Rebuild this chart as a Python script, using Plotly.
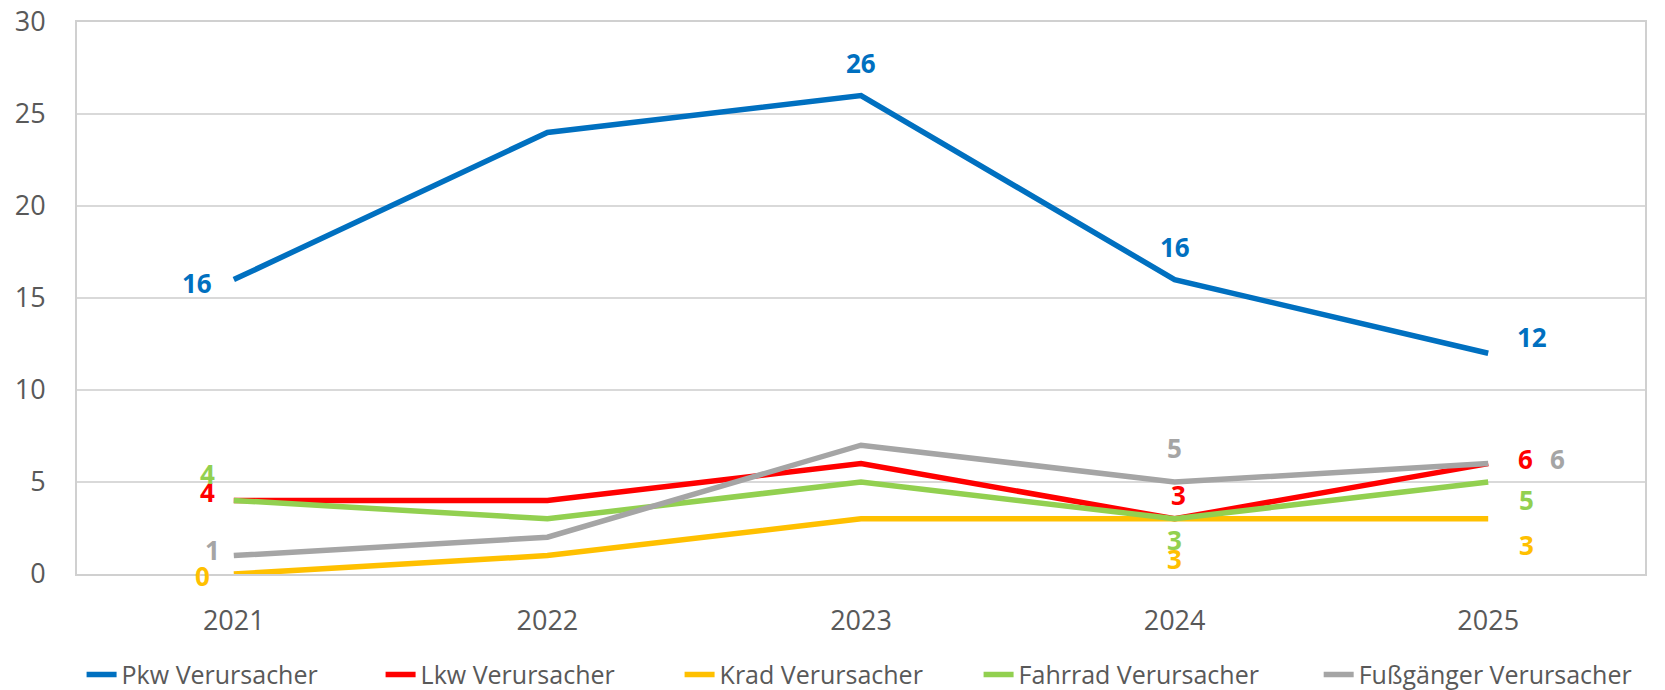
import plotly.graph_objects as go

years = ["2021", "2022", "2023", "2024", "2025"]
pkw = [16, 24, 26, 16, 12]
lkw = [4, 4, 6, 3, 6]
krad = [0, 1, 3, 3, 3]
fahrrad = [4, 3, 5, 3, 5]
fuss = [1, 2, 7, 5, 6]
y_ticks = [0, 5, 10, 15, 20, 25, 30]

series = [
    ("Pkw Verursacher", pkw, "#0070C0"),
    ("Lkw Verursacher", lkw, "#FF0000"),
    ("Krad Verursacher", krad, "#FFC000"),
    ("Fahrrad Verursacher", fahrrad, "#92D050"),
    ("Fußgänger Verursacher", fuss, "#A5A5A5"),
]

# data-label placement (index -> pixel offset dx, dy; dy positive = down)
label_offsets = {
    "Pkw Verursacher": {0: (-37, 3), 2: (0, -33), 3: (0, -33), 4: (44, -16)},
    "Lkw Verursacher": {0: (-26, -8), 3: (4, -24), 4: (37, -5)},
    "Krad Verursacher": {0: (-31, 2), 3: (0, 40), 4: (38, 26)},
    "Fahrrad Verursacher": {0: (-26, -26), 3: (0, 21), 4: (38, 18)},
    "Fußgänger Verursacher": {0: (-21, -6), 3: (0, -34), 4: (69, -5)},
}

FONT = "Open Sans"
fig = go.Figure()
for k, (name, vals, color) in enumerate(series):
    fig.add_trace(go.Scatter(
        x=years, y=vals, name=name, mode="lines",
        legend="legend2" if k == len(series) - 1 else "legend",
        line=dict(color=color, width=5.5),
    ))

for name, vals, color in series:
    for i, off in label_offsets[name].items():
        dx, dy = off
        fig.add_annotation(
            x=i, y=vals[i], xref="x", yref="y",
            text="<b>" + str(vals[i]) + "</b>", showarrow=False,
            xshift=dx, yshift=-dy,
            font=dict(family=FONT, size=26, color=color),
        )

legend_common = dict(
    orientation="h", xref="container", xanchor="left",
    yref="container", y=0.022, yanchor="middle",
    font=dict(family=FONT, size=25, color="#595959"),
)

fig.update_layout(
    width=1665, height=690, autosize=False,
    margin=dict(l=77, r=20, t=22, b=116),
    plot_bgcolor="white", paper_bgcolor="white",
    font=dict(family=FONT, color="#595959"),
    showlegend=True,
    legend=dict(x=0.049, entrywidth=254, entrywidthmode="pixels", **legend_common),
    legend2=dict(x=0.792, **legend_common),
)
fig.update_xaxes(
    type="category", range=[-0.5, 4.5], automargin=False,
    showline=True, linecolor="#D0D0D0", linewidth=2, mirror=True,
    showgrid=False, ticks="", tickfont=dict(family=FONT, size=27, color="#595959"),
    ticklabelstandoff=22,
)
fig.update_yaxes(
    range=[0, 30], tickvals=y_ticks, automargin=False,
    showline=True, linecolor="#D0D0D0", linewidth=2, mirror=True,
    showgrid=True, gridcolor="#D9D9D9", gridwidth=1.5, zeroline=False,
    ticks="", tickfont=dict(family=FONT, size=27, color="#595959"),
    ticklabelstandoff=24,
)

fig.write_html("out.html", config={"displayModeBar": False},
               post_script="document.body.style.margin='0';")
